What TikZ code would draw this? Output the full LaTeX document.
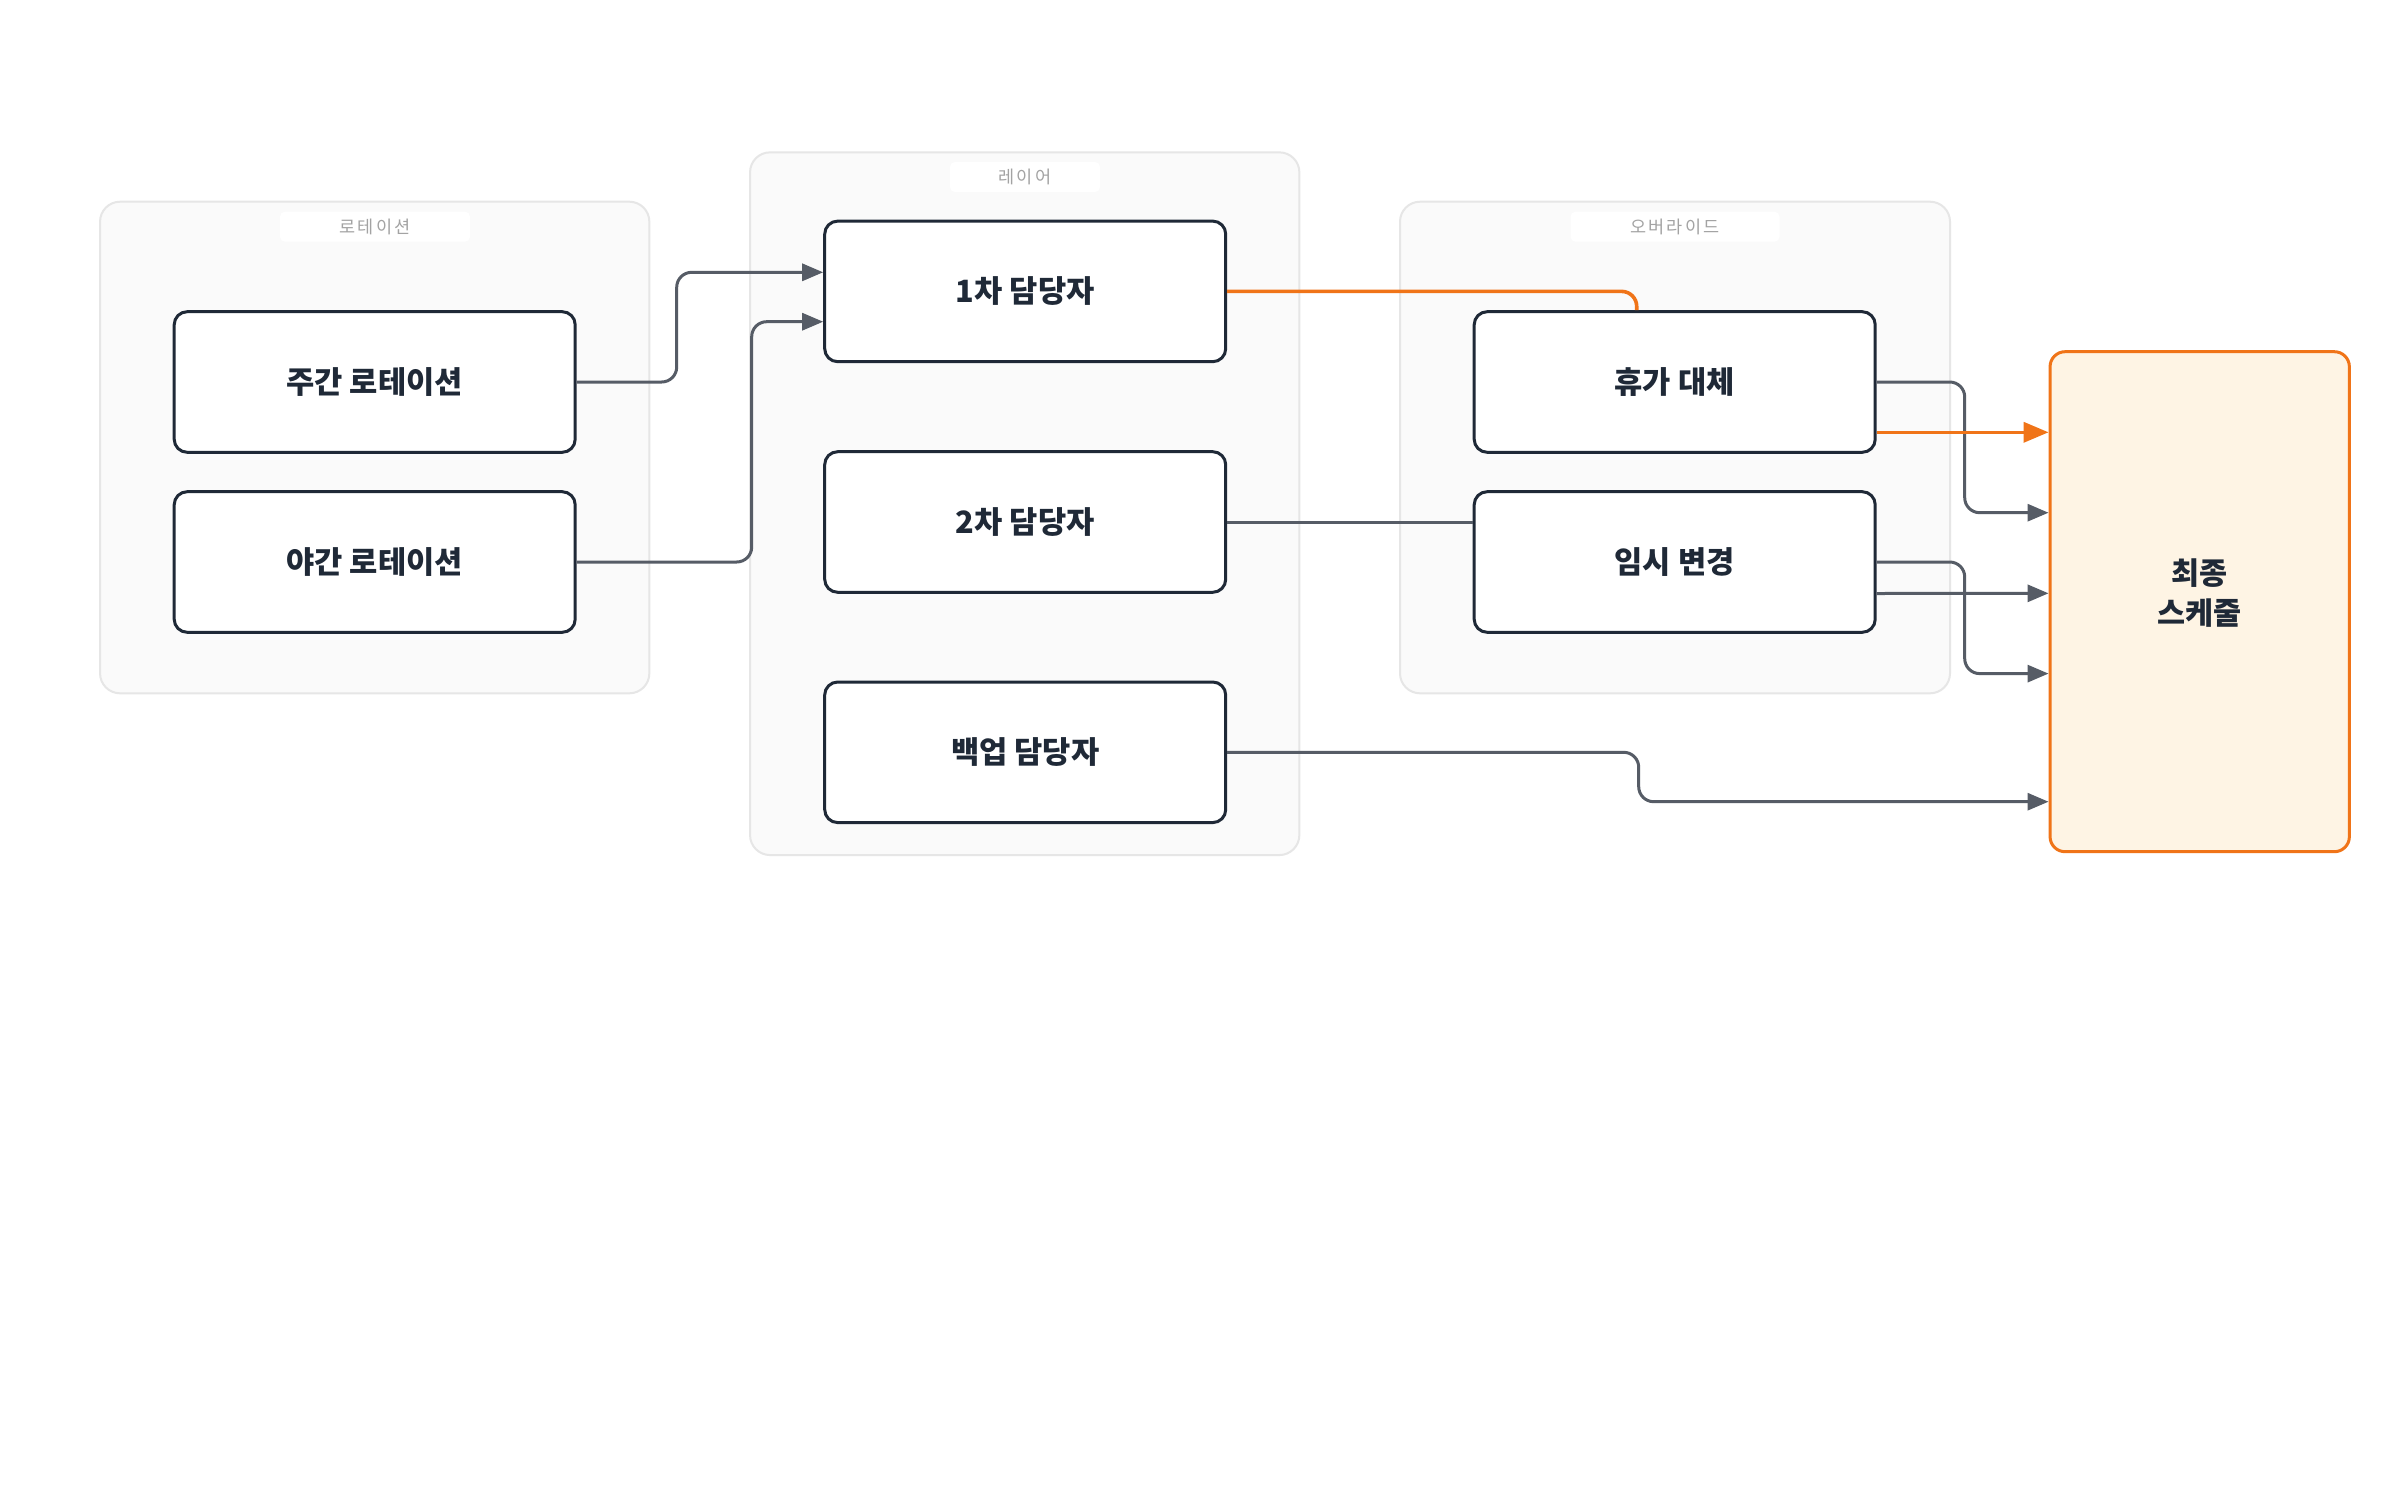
\documentclass[tikz,border=0pt]{standalone}
\usepackage{fontspec}
\newfontfamily\kr{Noto Sans CJK KR}
\newfontfamily\krl[LetterSpace=12]{Noto Sans CJK KR}
\usetikzlibrary{arrows.meta}
\definecolor{nodeline}{HTML}{1F2937}
\definecolor{edgegray}{HTML}{565C66}
\definecolor{orng}{HTML}{F07418}
\definecolor{clfill}{HTML}{FAFAFA}
\definecolor{clline}{HTML}{E6E6E6}
\definecolor{lbltext}{HTML}{A3A3A3}
\definecolor{finalfill}{HTML}{FEF4E4}
\begin{document}
\begin{tikzpicture}[x=1pt,y=-1pt,
  cluster/.style={draw=clline, fill=clfill, line width=2pt, rounded corners=20pt, inner sep=0pt},
  clabel/.style={fill=white, rounded corners=5pt, text=lbltext, font=\krl\fontsize{17.5}{20}\selectfont, minimum height=30pt, inner sep=0pt},
  box/.style={draw=nodeline, fill=white, line width=3pt, rounded corners=13pt, minimum width=401pt, minimum height=140.6pt, inner sep=0pt, text=nodeline, font=\kr\bfseries\fontsize{30.7}{36}\selectfont},
  finalbox/.style={draw=orng, fill=finalfill, line width=3pt, rounded corners=15pt, minimum width=299.3pt, minimum height=500pt, inner sep=0pt},
  edge/.style={draw=edgegray, line width=3pt, rounded corners=15pt},
  oedge/.style={draw=orng, line width=3.6pt, rounded corners=15pt},
  garrow/.style={-{Triangle[length=21pt,width=17pt]}},
  oarrow/.style={-{Triangle[length=25pt,width=20pt]}}
]
\useasboundingbox[fill=white] (0,0) rectangle (2400,1502);
% clusters
\node[cluster, minimum width=549.3pt, minimum height=491.6pt] (crot) at (374.7,447.5) {};
\node[cluster, minimum width=549.3pt, minimum height=702.7pt] (clay) at (1024.7,503.7) {};
\node[cluster, minimum width=550pt, minimum height=491.6pt] (cover) at (1675,447.5) {};
\node[clabel, minimum width=190pt] (lrot) at (375,226.7) {로테이션};
\node[clabel, minimum width=150pt] (llay) at (1025,177) {레이어};
\node[clabel, minimum width=209pt] (lover) at (1675,226.7) {오버라이드};
% nodes
\node[box] (wk) at (374.7,382) {주간 로테이션};
\node[box] (nt) at (374.7,562) {야간 로테이션};
\node[box] (p1) at (1025.2,291.4) {1차 담당자};
\node[box] (p2) at (1025.2,522) {2차 담당자};
\node[box] (bk) at (1025.2,752.3) {백업 담당자};
\node[box] (vac) at (1674.7,382) {휴가 대체};
\node[box] (tmp) at (1674.7,562) {임시 변경};
\node[finalbox] (fin) at (2199.7,601.7) {};
\node[text=nodeline, font=\kr\bfseries\fontsize{30.5}{40}\selectfont, align=center] (fint) at (2199.7,593) {최종\\스케줄};
% edges
\draw[edge, garrow] (wk.east) -- ++(100,0) |- ([yshift=19.1pt]p1.west);
\draw[edge, garrow] (nt.east) -- ++(175,0) |- ([yshift=-30.3pt]p1.west);
\draw[oedge] (p1.east) -| ([xshift=-38pt]vac.north);
\draw[edge] (p2.east) -- (p2.east -| tmp.west);
\draw[edge, garrow] (vac.east) -- ++(88,0) |- ([yshift=89pt]fin.west);
\draw[oedge, oarrow] ([yshift=-50.3pt]vac.east) -- ([yshift=169.4pt]fin.west);
\draw[edge, garrow] (tmp.east) -- ++(88,0) |- ([yshift=-71.9pt]fin.west);
\draw[edge, garrow] ([yshift=-31.5pt]tmp.east) -- ([yshift=8.4pt]fin.west);
\draw[edge, garrow] (bk.east) -- ++(411.5,0) |- ([yshift=-200pt]fin.west);
\end{tikzpicture}
\end{document}
